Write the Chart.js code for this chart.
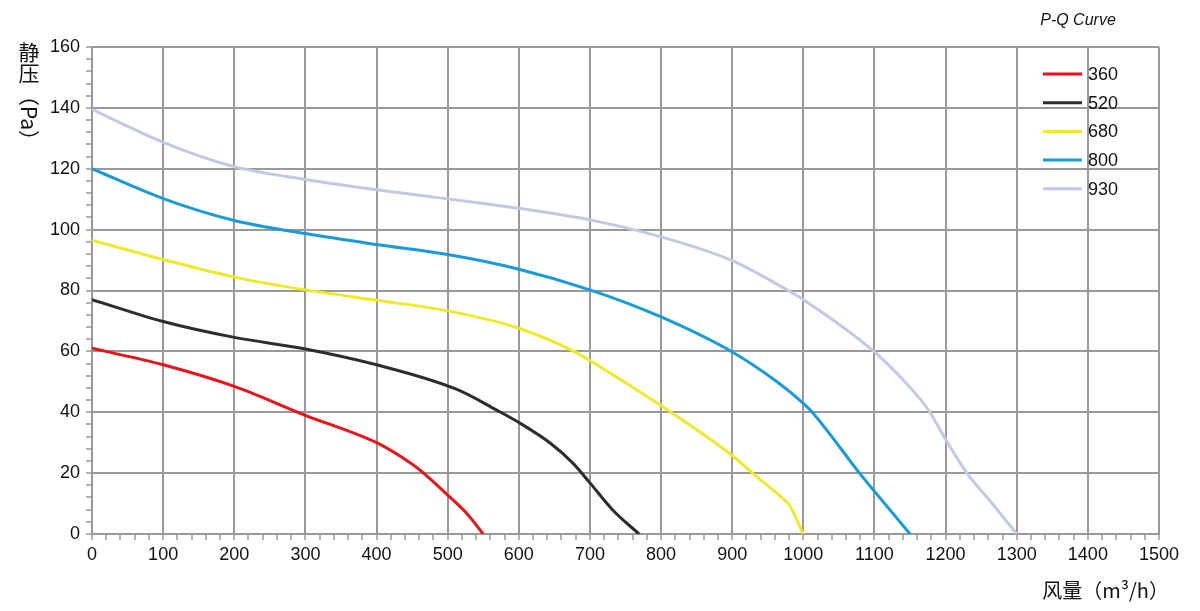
<!DOCTYPE html>
<html>
<head>
<meta charset="utf-8">
<script src="https://cdn.jsdelivr.net/npm/chart.js@4.4.1/dist/chart.umd.min.js"></script>
<style>
  html, body { margin: 0; padding: 0; background: #fff; }
  canvas { display: block; }
</style>
</head>
<body>
<canvas id="myChart" width="1200" height="611" style="width:1200px;height:611px"></canvas>
<script>
// fan speeds (legend labels) and line colours
const speeds = ["360", "520", "680", "800", "930"]
const colors = ["#e8131b", "#2d2d2d", "#eeea2a", "#1a9bd7", "#c2c9e3"]

// airflow (m3/h) and static pressure (Pa)
const flow360 = [0, 100, 200, 300, 400, 433, 461, 500, 529, 550]
const pres360 = [61, 55.6, 48.5, 39, 30, 25.6, 21, 12.8, 6.2, 0]

const flow520 = [0, 100, 200, 300, 400, 513, 569, 599, 644, 676, 700, 732, 769]
const pres520 = [77, 69.8, 64.6, 60.8, 55.6, 47.5, 40.7, 36.8, 29.9, 23.3, 16.8, 7.9, 0]

const flow680 = [0, 100, 200, 300, 400, 500, 600, 677, 700, 766, 800, 900, 930, 972, 981, 1000]
const pres680 = [96.5, 90.2, 84.4, 80.2, 76.8, 73.3, 67.6, 60.1, 57, 47.3, 42.2, 25.8, 19.7, 11.5, 9.3, 0]

const flow800 = [0, 100, 200, 300, 400, 500, 600, 700, 800, 900, 963, 1000, 1014, 1079, 1100, 1150]
const pres800 = [120, 110.2, 103, 98.7, 95.1, 91.8, 87, 80.2, 71.3, 59.8, 50, 42.9, 39.6, 20, 14, 0]

const flow930 = [0, 100, 200, 300, 400, 500, 600, 700, 800, 900, 977, 1000, 1100, 1164, 1178, 1199, 1230, 1262, 1300]
const pres930 = [139.5, 128.7, 120.7, 116.5, 113.1, 110.1, 107, 103.2, 97.6, 89.8, 80.2, 77, 59.8, 44.4, 40, 31.5, 20, 11, 0]

const flows = [flow360, flow520, flow680, flow800, flow930]
const pressures = [pres360, pres520, pres680, pres800, pres930]

// axis tick labels
const xTickLabels = [0, 100, 200, 300, 400, 500, 600, 700, 800, 900, 1000, 1100, 1200, 1300, 1400, 1500]
const yTickLabels = [0, 20, 40, 60, 80, 100, 120, 140, 160]

const numFont = "'Liberation Sans', Arial, sans-serif"
const cjkFont = "'Noto Sans CJK SC', sans-serif"
const gridColor = "#999999"

const datasets = speeds.map((s, i) => ({
  label: s,
  data: flows[i].map((x, j) => ({ x: x, y: pressures[i][j] })),
  borderColor: colors[i],
  backgroundColor: colors[i],
  borderWidth: 3,
  pointRadius: 0,
  fill: false,
  cubicInterpolationMode: "monotone"
}))

// titles and the legend block, drawn on top of the chart
const textPlugin = {
  id: "pqText",
  afterDraw(chart) {
    const ctx = chart.ctx
    ctx.save()
    ctx.fillStyle = "#111"

    // chart title
    ctx.font = "italic 16px " + numFont
    ctx.textAlign = "center"
    ctx.textBaseline = "middle"
    ctx.fillText("P-Q Curve", 1078, 21)

    // y axis title, vertical
    ctx.font = "21px " + cjkFont
    ctx.fillText("静", 29, 52)
    ctx.fillText("压", 29, 73)
    ctx.save()
    ctx.translate(29, 85)
    ctx.rotate(Math.PI / 2)
    ctx.textAlign = "left"
    ctx.fillText("（Pa）", 0, 0)
    ctx.restore()

    // x axis title
    ctx.textAlign = "right"
    ctx.font = "20px " + cjkFont
    ctx.fillText("风量（m³/h）", 1169, 590)

    // legend
    ctx.textAlign = "left"
    ctx.font = "18px " + numFont
    chart.data.datasets.forEach((ds, i) => {
      const y = 74 + i * 28.7
      ctx.strokeStyle = ds.borderColor
      ctx.lineWidth = 3
      ctx.beginPath()
      ctx.moveTo(1043, y)
      ctx.lineTo(1082, y)
      ctx.stroke()
      ctx.fillStyle = "#111"
      ctx.fillText(ds.label, 1088, y + 1)
    })
    ctx.restore()
  }
}

const myChartRef = document.getElementById("myChart").getContext("2d")
new Chart(myChartRef, {
  type: "line",
  data: { datasets: datasets },
  options: {
    responsive: false,
    animation: false,
    events: [],
    layout: { padding: { top: 47, right: 41, left: 0, bottom: 0 } },
    plugins: {
      legend: { display: false },
      tooltip: { enabled: false },
      title: { display: false }
    },
    scales: {
      x: {
        type: "linear",
        min: 0,
        max: 1500,
        afterFit: scale => { scale.height = 77 },
        ticks: {
          stepSize: 20,
          maxTicksLimit: 200,
          autoSkip: false,
          maxRotation: 0,
          padding: 4,
          color: "#111",
          font: { family: numFont, size: 18 },
          callback: v => xTickLabels.includes(v) ? String(v) : ""
        },
        grid: {
          color: c => (c.tick && c.tick.value % 100 === 0) ? gridColor : "transparent",
          tickColor: gridColor,
          lineWidth: 2,
          tickWidth: 1.5,
          tickLength: 6
        },
        border: { color: gridColor, width: 2 }
      },
      y: {
        min: 0,
        max: 160,
        afterFit: scale => { scale.width = 92 },
        ticks: {
          stepSize: 4,
          maxTicksLimit: 200,
          autoSkip: false,
          padding: 6,
          color: "#111",
          font: { family: numFont, size: 18 },
          callback: v => yTickLabels.includes(v) ? String(v) : ""
        },
        grid: {
          color: c => (c.tick && c.tick.value % 20 === 0) ? gridColor : "transparent",
          tickColor: gridColor,
          lineWidth: 2,
          tickWidth: 1.5,
          tickLength: 6
        },
        border: { color: gridColor, width: 2 }
      }
    }
  },
  plugins: [textPlugin]
})
</script>
</body>
</html>
